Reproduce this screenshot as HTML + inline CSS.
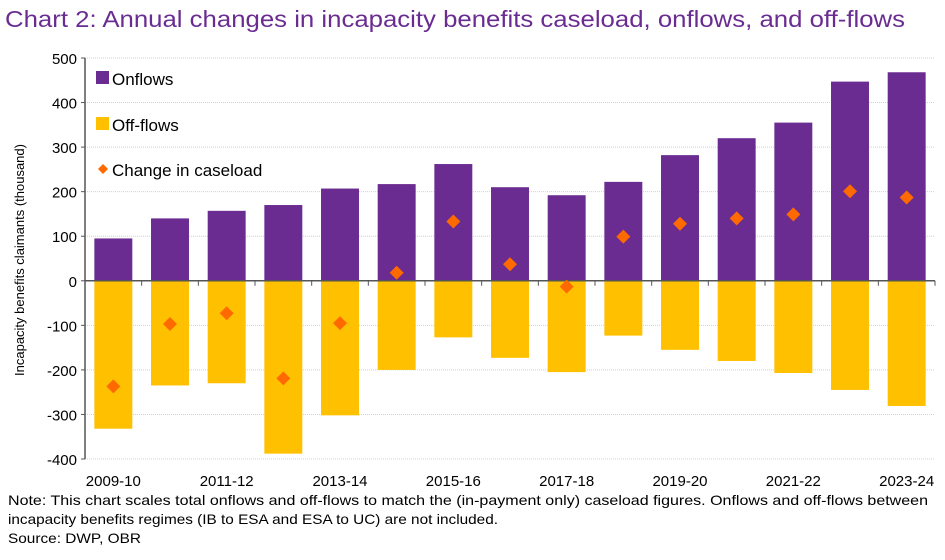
<!DOCTYPE html>
<html><head><meta charset="utf-8"><style>
body{margin:0;background:#fff;width:945px;height:555px;overflow:hidden;font-family:"Liberation Sans",sans-serif}
</style></head><body>
<svg width="945" height="555" xmlns="http://www.w3.org/2000/svg">
<text x="5" y="27" font-size="23" fill="#6A2C91" textLength="900" lengthAdjust="spacingAndGlyphs">Chart 2: Annual changes in incapacity benefits caseload, onflows, and off-flows</text>
<g id="grid"></g><g id="bars"></g><g id="axes"></g><g id="pts"></g>
<g font-size="17" fill="#000">
<rect x="96" y="71" width="13" height="13" fill="#6A2C91"/>
<text x="112" y="85">Onflows</text>
<rect x="96" y="117" width="13" height="13" fill="#FFC000"/>
<text x="112" y="131">Off-flows</text>
<path d="M103 164 L108 169 L103 174 L98 169Z" fill="#FF6A00"/>
<text x="112" y="176">Change in caseload</text>
</g>
<text transform="translate(24,260) rotate(-90)" text-anchor="middle" font-size="13">Incapacity benefits claimants (thousand)</text>
<g font-size="14" fill="#000">
<text x="8" y="505" textLength="920" lengthAdjust="spacingAndGlyphs">Note: This chart scales total onflows and off-flows to match the (in-payment only) caseload figures. Onflows and off-flows between</text>
<text x="8" y="524" textLength="490" lengthAdjust="spacingAndGlyphs">incapacity benefits regimes (IB to ESA and ESA to UC) are not included.</text>
<text x="8" y="543" textLength="133" lengthAdjust="spacingAndGlyphs">Source: DWP, OBR</text>
</g>
</svg>
<script>
const categories=["2009-10","2010-11","2011-12","2012-13","2013-14","2014-15","2015-16","2016-17","2017-18","2018-19","2019-20","2020-21","2021-22","2022-23","2023-24"];
const onflows=[95,140,157,170,207,217,262,210,192,222,282,320,355,447,468];
const offflows=[-332,-235,-230,-388,-302,-200,-127,-173,-205,-123,-155,-180,-207,-245,-281];
const change=[-237,-97,-73,-219,-95,18,133,37,-13,99,128,140,149,201,187];
const yTicks=[500,400,300,200,100,0,-100,-200,-300,-400];
const NS="http://www.w3.org/2000/svg";
const L=85,R=935,T=58,B=459,yMax=500,yMin=-400;
const y=v=>T+(yMax-v)/(yMax-yMin)*(B-T);
const step=(R-L)/categories.length;
const x=i=>L+step*(i+0.5);
function mk(tag,attrs,parent){const e=document.createElementNS(NS,tag);for(const k in attrs)e.setAttribute(k,attrs[k]);document.getElementById(parent).appendChild(e);return e;}
yTicks.forEach(t=>{
  if(t!==0){const g=mk('line',{x1:L,x2:R,y1:y(t),y2:y(t),stroke:'#d0d0d0','stroke-dasharray':'1,1'},'grid');
  
  }
  const tx=mk('text',{x:L-8,y:y(t)+6,'text-anchor':'end','font-size':'15'},'axes');tx.textContent=t;
  
  
  mk('line',{x1:L-4,x2:L,y1:y(t),y2:y(t),stroke:'#555'},'axes');
});
const bw=step*0.67;
categories.forEach((c,i)=>{
  const a=mk('rect',{x:x(i)-bw/2,y:y(onflows[i]),width:bw,height:y(0)-y(onflows[i]),fill:'#6A2C91'},'bars');
  
  
  const b=mk('rect',{x:x(i)-bw/2,y:y(0),width:bw,height:y(offflows[i])-y(0),fill:'#FFC000'},'bars');
  
  
  const cy=y(change[i]),cx=x(i);
  const p=mk('path',{d:`M${cx} ${cy-7} L${cx+7} ${cy} L${cx} ${cy+7} L${cx-7} ${cy}Z`,fill:'#FF6A00'},'pts');
  
  
  mk('line',{x1:L+step*(i+1),x2:L+step*(i+1),y1:y(0),y2:y(0)+5,stroke:'#555'},'axes');
  if(i%2===0){const t=mk('text',{x:cx,y:486,'text-anchor':'middle','font-size':'15'},'axes');t.textContent=c;
  
  }
});
mk('line',{x1:L,x2:L,y1:T,y2:B,stroke:'#555','stroke-width':1.5},'axes');
const z=mk('line',{x1:L,x2:R,y1:y(0),y2:y(0),stroke:'#555','stroke-width':1.5},'axes');


</script>
</body></html>
